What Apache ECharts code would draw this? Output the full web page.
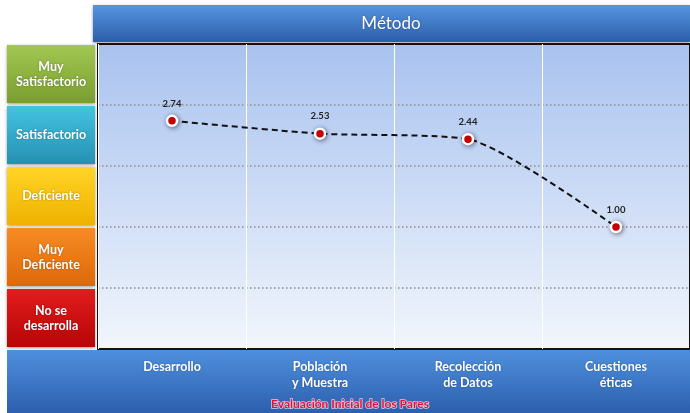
<!DOCTYPE html>
<html>
<head>
<meta charset="utf-8">
<script src="https://cdn.jsdelivr.net/npm/echarts@6/dist/echarts.min.js"></script>
<style>html,body{margin:0;padding:0;background:#fff;}#c{width:690px;height:413px;}</style>
</head>
<body>
<div id="c"></div>
<script>
var categories = ['Desarrollo', 'Población\ny Muestra', 'Recolección\nde Datos', 'Cuestiones\néticas'];
var values = [2.74, 2.53, 2.44, 1.00];
var levelNames = ['Muy\nSatisfactorio', 'Satisfactorio', 'Deficiente', 'Muy\nDeficiente', 'No se\ndesarrolla'];
var levelTop = [4, 3, 2, 1, 0];
var levelBottom = [3, 2, 1, 0, -1];
var levelColors = [['#a2c853', '#7a9d2e'], ['#44c4e2', '#2590b2'], ['#ffd426', '#efb200'], ['#f78c24', '#dd6808'], ['#e21c1c', '#b70606']];
var chartTitle = 'Método';
var footer = 'Evaluación Inicial de los Pares';

var FONT = 'Lato, "Open Sans", sans-serif';
var chart = echarts.init(document.getElementById('c'));

function grad(a, b) {
  return {type: 'linear', x: 0, y: 0, x2: 0, y2: 1, colorStops: [{offset: 0, color: a}, {offset: 1, color: b}]};
}

var option = {
  animation: false,
  grid: {
    left: 98, right: -4, top: 44, bottom: 64,
    show: true,
    backgroundColor: grad('#a8c2ef', '#f2f6fc'),
    borderColor: '#111', borderWidth: 2
  },
  xAxis: {
    type: 'category',
    data: categories,
    boundaryGap: true,
    axisLine: {show: false},
    axisTick: {show: false},
    splitLine: {show: true, lineStyle: {color: '#ffffff', width: 1}},
    axisLabel: {color: '#ffffff', fontFamily: FONT, fontWeight: 'bold', fontSize: 12.5, lineHeight: 16, margin: 10,
      textShadowColor: 'rgba(0,0,0,0.3)', textShadowBlur: 2}
  },
  yAxis: {
    type: 'value', min: -1, max: 4, interval: 1,
    axisLine: {show: false}, axisTick: {show: false}, axisLabel: {show: false},
    splitLine: {show: true, showMinLine: false, showMaxLine: false, lineStyle: {color: '#8c8c8c', width: 1.5, type: [1.5, 2.5]}}
  },
  series: [{
    type: 'line',
    data: values,
    smooth: 0.22,
    symbol: 'circle',
    symbolSize: 10,
    lineStyle: {color: '#111', width: 2, type: [6, 4]},
    itemStyle: {color: '#ee0000', borderColor: '#ffffff', borderWidth: 2.5, shadowBlur: 5, shadowColor: 'rgba(0,0,0,0.45)', shadowOffsetX: 1, shadowOffsetY: 1},
    label: {show: true, position: 'top', distance: 6, color: '#222', fontFamily: FONT, fontWeight: 'bold', fontSize: 9.5,
      formatter: function (p) { return p.value.toFixed(2); }},
    z: 5
  }]
};
chart.setOption(option);

var g = [];
g.push({type: 'rect', shape: {x: 93, y: 5, width: 597, height: 37}, z: -1,
  style: {fill: grad('#5595e0', '#2c5eaa'), shadowBlur: 3, shadowColor: 'rgba(0,0,0,0.4)', shadowOffsetY: 1}});
g.push({type: 'text', x: 391, y: 24, z: 5, style: {text: chartTitle, fill: '#fff', font: '17px ' + FONT, align: 'center', verticalAlign: 'middle',
  textShadowColor: 'rgba(0,0,0,0.35)', textShadowBlur: 2}});
g.push({type: 'rect', shape: {x: 7, y: 350, width: 683, height: 63}, z: -1,
  style: {fill: grad('#4f90de', '#2c5fad')}});
g.push({type: 'text', x: 350, y: 404, z: 5, style: {text: footer, fill: '#e4103a', font: 'bold 12px ' + FONT, align: 'center', verticalAlign: 'middle',
  stroke: 'rgba(255,225,230,0.8)', lineWidth: 1.6}});
for (var i = 0; i < levelNames.length; i++) {
  var yTopPx = chart.convertToPixel({yAxisIndex: 0}, levelTop[i]);
  var yBotPx = chart.convertToPixel({yAxisIndex: 0}, levelBottom[i]);
  var boxTop = yTopPx + 1, boxH = (yBotPx - 2) - boxTop;
  g.push({type: 'rect', shape: {x: 7, y: boxTop, width: 88, height: boxH}, z: 1,
    style: {fill: grad(levelColors[i][0], levelColors[i][1]), shadowBlur: 3, shadowColor: 'rgba(0,0,0,0.4)', shadowOffsetY: 1}});
  g.push({type: 'text', x: 51, y: boxTop + boxH / 2, z: 2, style: {text: levelNames[i], fill: '#fff', font: 'bold 12.5px ' + FONT,
    align: 'center', verticalAlign: 'middle', lineHeight: 15, textShadowColor: 'rgba(0,0,0,0.35)', textShadowBlur: 2}});
}
chart.setOption({graphic: g});
</script>
</body>
</html>
